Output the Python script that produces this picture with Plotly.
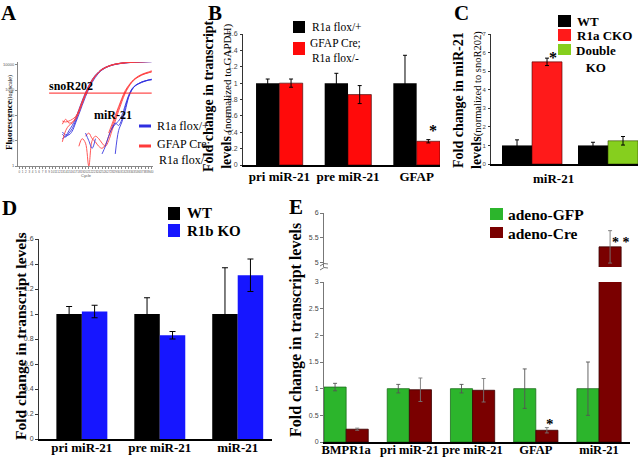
import plotly.graph_objects as go

W, H = 640, 458
def fx(px): return px / W
def fy(py): return 1 - py / H

SERIF = "Liberation Serif, Times New Roman, serif"
SANS = "Liberation Sans, Arial, sans-serif"

# ---------------- Panel A data (qPCR amplification curves) ----------------
cycles_sno = [13, 14, 15, 16, 17, 18, 19, 20, 21, 22, 23, 24, 25, 27, 29, 32, 35, 38, 40]
sno_blue = [
    [22, 17, 17, 24, 50, 110, 250, 550, 1100, 2000, 3200, 4700, 6200, 8600, 10300, 11800, 12600, 13100, 13300],
    [18, 14, 20, 30, 60, 140, 320, 680, 1300, 2300, 3600, 5000, 6500, 8800, 10500, 12000, 12800, 13200, 13400],
    [12, 15, 25, 40, 75, 170, 380, 800, 1500, 2600, 3900, 5300, 6800, 9000, 10700, 12100, 12900, 13300, 13500],
]
sno_red = [
    [60, 55, 60, 70, 90, 150, 320, 700, 1350, 2400, 3700, 5100, 6600, 8900, 10600, 12100, 12900, 13300, 13500],
    [9, 25, 40, 50, 70, 130, 290, 640, 1250, 2250, 3500, 4900, 6400, 8700, 10400, 11900, 12700, 13200, 13400],
    [45, 70, 50, 55, 80, 160, 360, 760, 1450, 2500, 3800, 5200, 6700, 9000, 10700, 12200, 13000, 13400, 13600],
]
cycles_mir = [18, 19, 20, 21, 22, 23, 24, 25, 26, 27, 28, 29, 30, 31, 32, 33, 34, 35, 36, 37, 38, 39, 40]
mir_red = [
    [6, 12, 8, 1, 10, 15, 12, 8, 6, 10, 25, 60, 150, 350, 750, 1300, 2000, 2700, 3300, 3900, 4400, 4800, 5200],
    [None, None, 15, 20, 12, 9, 6, 5, 7, 15, 35, 80, 190, 420, 850, 1400, 2100, 2800, 3400, 4000, 4500, 4900, 5400],
    [None, None, None, None, None, None, None, None, None, 20, 45, 100, 220, 480, 950, 1500, 2200, 2900, 3600, 4200, 4700, 5200, 5800],
]
mir_blue = [
    [None, None, 20, 10, 5, 12, None, 3, 6, 15, 30, 45, 60, 100, 250, 600, 1100, 1500, 1800, 2100, 2300, 2500, 2600],
    [None, None, None, None, None, None, None, None, None, None, None, 3, 25, 55, 150, 500, 1000, 1500, 1800, 2100, 2300, 2500, 2700],
    [None, None, None, None, None, None, None, None, None, None, 30, 50, 40, 70, 200, 550, 1050, 1450, 1750, 2000, 2250, 2450, 2550],
]
threshold_cycles = [9, 40]
threshold_value = 760
a_yticks = [1, 10, 100, 1000, 10000]
a_xticks = list(range(0, 41))

# ---------------- Panel B ----------------
b_cats = ["pri miR-21", "pre miR-21", "GFAP"]
b_flox = [1.0, 1.0, 1.0]
b_flox_err = [0.05, 0.12, 0.34]
b_cre = [1.0, 0.86, 0.29]
b_cre_err = [0.05, 0.11, 0.02]
b_ticks = [0, 0.2, 0.4, 0.6, 0.8, 1.0, 1.2, 1.4, 1.6]
b_ticktext = ["0", "0.2", "0.4", "0.6", "0.8", "1", "1.2", "1.4", "1.6"]

# ---------------- Panel C ----------------
c_groups = ["WT vs R1a CKO", "WT vs Double KO"]
c_wt = [1.0, 1.0]
c_wt_err = [0.3, 0.17]
c_cko = [5.5]
c_cko_err = [0.2]
c_dko = [1.25]
c_dko_err = [0.23]
c_ticks = [0, 1, 2, 3, 4, 5, 6, 7]

# ---------------- Panel D ----------------
d_cats = ["pri miR-21", "pre miR-21", "miR-21"]
d_wt = [1.0, 1.0, 1.0]
d_wt_err = [0.06, 0.13, 0.37]
d_r1b = [1.02, 0.83, 1.31]
d_r1b_err = [0.05, 0.03, 0.13]

# ---------------- Panel E ----------------
e_cats = ["BMPR1a", "pri miR-21", "pre miR-21", "GFAP", "miR-21"]
e_gfp = [1.03, 1.0, 1.0, 1.0, 1.0]
e_gfp_err = [0.07, 0.08, 0.08, 0.37, 0.5]
e_cre = [0.24, 0.98, 0.97, 0.22, 5.31]
e_cre_err = [0.02, 0.22, 0.22, 0.05, 0.33]
e_low_ticks = [0, 0.5, 1, 1.5, 2, 2.5, 3]
e_low_text = ["0", "0.5", "1", "1.5", "2", "2.5", "3"]
e_high_ticks = [5, 5.5, 6]
e_high_text = ["5", "5.5", "6"]

# colours
A_BLUE, A_RED = "#2f2fe0", "#ff3b3b"
B_BLACK, B_RED = "#000000", "#ff0a0a"
C_BLACK, C_RED, C_GREEN = "#000000", "#ff1a1a", "#86cf1e"
D_BLACK, D_BLUE = "#000000", "#1616ff"
E_GREEN, E_RED = "#2cb52c", "#7a0000"

fig = go.Figure()

# ---- A traces
def curve(xs, ys, color):
    fig.add_trace(go.Scatter(x=xs, y=ys, mode="lines", xaxis="x", yaxis="y",
                             line=dict(color=color, width=1, shape="spline"), opacity=0.85,
                             showlegend=False, hoverinfo="skip"))
for vals in sno_blue:
    curve(cycles_sno, vals, A_BLUE)
for vals in sno_red:
    curve(cycles_sno, vals, A_RED)
for vals in mir_red:
    curve(cycles_mir, vals, A_RED)
for vals in mir_blue:
    curve(cycles_mir, vals, A_BLUE)
fig.add_trace(go.Scatter(x=threshold_cycles, y=[threshold_value] * len(threshold_cycles), mode="lines",
                         xaxis="x", yaxis="y", line=dict(color="#ff2020", width=1),
                         showlegend=False, hoverinfo="skip"))

def err(vals, color="black", thick=1, width=2):
    return dict(type="data", array=vals, visible=True, color=color, thickness=thick, width=width)

# ---- B traces
wB = 0.34
fig.add_trace(go.Bar(x=b_cats, y=b_flox, name="R1a flox/+", xaxis="x2", yaxis="y2",
                     width=wB, offset=-wB, marker=dict(color=B_BLACK, line=dict(width=0)),
                     error_y=err(b_flox_err), showlegend=False))
fig.add_trace(go.Bar(x=b_cats, y=b_cre, name="GFAP Cre; R1a flox/-", xaxis="x2", yaxis="y2",
                     width=wB, offset=0, marker=dict(color=B_RED, line=dict(color="#300000", width=0.6)),
                     error_y=err(b_cre_err), showlegend=False))

# ---- C traces
wC = 0.395
fig.add_trace(go.Bar(x=c_groups, y=c_wt, name="WT", xaxis="x3", yaxis="y3",
                     width=wC, offset=-wC, marker=dict(color=C_BLACK, line=dict(width=0)),
                     error_y=err(c_wt_err), showlegend=False))
fig.add_trace(go.Bar(x=c_groups[:1], y=c_cko, name="R1a CKO", xaxis="x3", yaxis="y3",
                     width=wC, offset=0, marker=dict(color=C_RED, line=dict(color="#400000", width=0.6)),
                     error_y=err(c_cko_err), showlegend=False))
fig.add_trace(go.Bar(x=c_groups[1:], y=c_dko, name="Double KO", xaxis="x3", yaxis="y3",
                     width=wC, offset=0, marker=dict(color=C_GREEN, line=dict(color="#304000", width=0.6)),
                     error_y=err(c_dko_err), showlegend=False))

# ---- D traces
wD = 0.327
fig.add_trace(go.Bar(x=d_cats, y=d_wt, name="WT", xaxis="x4", yaxis="y4",
                     width=wD, offset=-wD, marker=dict(color=D_BLACK, line=dict(width=0)),
                     error_y=err(d_wt_err, width=3), showlegend=False))
fig.add_trace(go.Bar(x=d_cats, y=d_r1b, name="R1b KO", xaxis="x4", yaxis="y4",
                     width=wD, offset=0, marker=dict(color=D_BLUE, line=dict(width=0)),
                     error_y=err(d_r1b_err, width=3), showlegend=False))

# ---- E traces (broken axis: lower y5, upper y6)
wE = 0.35
for ya in ["y5", "y6"]:
    fig.add_trace(go.Bar(x=e_cats, y=e_gfp, name="adeno-GFP", xaxis="x5", yaxis=ya,
                         width=wE, offset=-wE, marker=dict(color=E_GREEN, line=dict(color="#1c6e1c", width=0.8)),
                         error_y=err(e_gfp_err, color="#555555", thick=0.9, width=2), showlegend=False))
    fig.add_trace(go.Bar(x=e_cats, y=e_cre, name="adeno-Cre", xaxis="x5", yaxis=ya,
                         width=wE, offset=0, marker=dict(color=E_RED, line=dict(color="#3a0000", width=0.8)),
                         error_y=err(e_cre_err, color="#777777", thick=0.9, width=2), showlegend=False))

tickfont_small = dict(family=SANS, size=7, color="#444444")
catfont = dict(family=SERIF, size=13, color="black", weight="bold")
common = dict(showgrid=False, zeroline=False, automargin=False, tickangle=0)

layout = dict(
    width=W, height=H, margin=dict(l=0, r=0, t=0, b=0, autoexpand=False),
    paper_bgcolor="white", plot_bgcolor="white", showlegend=False, barmode="group",
    # A
    xaxis=dict(domain=[fx(18), fx(153)], range=[-0.4, 40.4], anchor="y", showline=True, linecolor="#888888",
               linewidth=1, ticks="outside", ticklen=2, tickcolor="#888888", tickvals=a_xticks,
               tickfont=dict(family=SANS, size=3, color="#555555"), **common),
    yaxis=dict(domain=[fy(166), fy(62)], type="log", range=[0, 4.11], anchor="x", showline=True,
               linecolor="#888888", linewidth=1, ticks="outside", ticklen=2, tickcolor="#888888",
               tickvals=a_yticks, ticktext=[str(v) for v in a_yticks],
               tickfont=dict(family=SANS, size=4, color="#555555"), **common),
    # B
    xaxis2=dict(domain=[fx(243), fx(440)], range=[-0.53, 2.34], anchor="y2", type="category",
                showline=True, linecolor="black", linewidth=1.5, ticks="", tickfont=catfont,
                ticklabelstandoff=-1, **common),
    yaxis2=dict(domain=[fy(165), fy(34)], range=[0, 1.6], anchor="x2", showline=True, linecolor="#333333",
                linewidth=1, ticks="outside", ticklen=2, tickcolor="#333333", tickvals=b_ticks, ticktext=b_ticktext,
                tickfont=tickfont_small, ticklabelstandoff=1, **common),
    # C
    xaxis3=dict(domain=[fx(491), fx(638)], range=[-0.54, 1.395], anchor="y3", type="category",
                showline=True, linecolor="black", linewidth=1.5, ticks="", showticklabels=False, **common),
    yaxis3=dict(domain=[fy(164), fy(34)], range=[0, 7], anchor="x3", showline=True, linecolor="#333333",
                linewidth=1, ticks="outside", ticklen=2, tickcolor="#333333", tickvals=c_ticks,
                ticktext=[str(v) for v in c_ticks], tickfont=dict(family=SANS, size=6, color="#444444"),
                ticklabelstandoff=1, **common),
    # D
    xaxis4=dict(domain=[fx(39), fx(272)], range=[-0.55, 2.44], anchor="y4", type="category",
                showline=True, linecolor="black", linewidth=1.5, ticks="", tickfont=catfont,
                ticklabelstandoff=-4, **common),
    yaxis4=dict(domain=[fy(439), fy(239)], range=[0, 1.6], anchor="x4", showline=True, linecolor="#333333",
                linewidth=1, ticks="outside", ticklen=3, tickcolor="#333333", tickvals=b_ticks, ticktext=b_ticktext,
                tickfont=tickfont_small, **common),
    # E
    xaxis5=dict(domain=[fx(324), fx(630)], range=[-0.35, 4.49], anchor="y5", type="category",
                showline=True, linecolor="black", linewidth=1.5, ticks="",
                tickfont=dict(family=SERIF, size=12.5, color="black", weight="bold"),
                ticklabelstandoff=-5, **common),
    yaxis5=dict(domain=[fy(442), fy(282)], range=[0, 3], anchor="x5", showline=True, linecolor="#777777",
                linewidth=1, ticks="outside", ticklen=3, tickcolor="#777777", tickvals=e_low_ticks,
                ticktext=e_low_text, tickfont=tickfont_small, **common),
    yaxis6=dict(domain=[fy(267), fy(213)], range=[4.9, 6], anchor="x5", showline=True, linecolor="#777777",
                linewidth=1, ticks="outside", ticklen=3, tickcolor="#777777", tickvals=e_high_ticks,
                ticktext=e_high_text, tickfont=tickfont_small, **common),
)
fig.update_layout(**layout)

ann = []
def text(px, py, s, size=12, bold=False, xanchor="center", angle=0, align="center", color="black", family=SERIF):
    ann.append(dict(x=fx(px), y=fy(py), xref="paper", yref="paper", text=s, showarrow=False,
                    xanchor=xanchor, yanchor="middle", textangle=angle, align=align,
                    font=dict(family=family, size=size, color=color, weight="bold" if bold else "normal")))

# panel letters
for lab, px, py in [("A", 9, 13), ("B", 215, 13), ("C", 461, 13), ("D", 9, 208), ("E", 296, 207)]:
    text(px, py, lab, size=21, bold=True)

# A texts
text(71, 86, "snoR202", size=12, bold=True)
text(113, 115, "miR-21", size=12, bold=True)
text(9, 113, "<b>Fluorescence</b><span style='font-size:6px'>(log scale)</span>", size=9, angle=-90)
text(86, 175, "Cycle", size=4, family=SANS, color="#555555")
text(155, 126, "R1a flox/+", size=12, xanchor="left")
text(155, 152, "GFAP Cre;<br>R1a flox/-", size=12, xanchor="left", align="center")

# B texts
text(217, 96, "<b>Fold change in transcript</b><br><b>levels</b> <span style='font-size:11px'>(normalized to GAPDH)</span>",
     size=14, angle=-90)
text(310, 27, "R1a flox/+", size=11.5, xanchor="left")
text(308, 50, "GFAP Cre;<br>R1a flox/-", size=11.5, xanchor="left", align="center")
text(433, 130, "*", size=16, bold=True)

# C texts
text(467, 100, "<b>Fold change in miR-21</b><br><b>levels</b><span style='font-size:10.5px'>(normalized to snoR202)</span>",
     size=14, angle=-90)
text(553, 178, "miR-21", size=13, bold=True)
text(575, 21, "WT", size=13, bold=True, xanchor="left")
text(575, 35, "R1a CKO", size=13, bold=True, xanchor="left")
text(574, 59, "Double<br>KO", size=13, bold=True, xanchor="left", align="center")
text(553, 58, "*", size=16, bold=True)

# D texts
text(20, 336, "Fold change in transcript levels", size=15.5, bold=True, angle=-90)
text(185, 213, "WT", size=15, bold=True, xanchor="left")
text(185, 231, "R1b KO", size=15, bold=True, xanchor="left")

# E texts
text(296, 330, "Fold change in transcript levels", size=16, bold=True, angle=-90)
text(506, 214, "adeno-GFP", size=15.5, bold=True, xanchor="left")
text(506, 233, "adeno-Cre", size=15.5, bold=True, xanchor="left")
text(550, 424, "*", size=15, bold=True)
text(621, 243, "* *", size=14, bold=True)

fig.update_layout(annotations=ann)

shapes = []
def square(x0, y0, x1, y1, color):
    shapes.append(dict(type="rect", xref="paper", yref="paper", x0=fx(x0), x1=fx(x1), y0=fy(y1), y1=fy(y0),
                       fillcolor=color, line=dict(width=0)))
def hline(x0, x1, y, color, w):
    shapes.append(dict(type="line", xref="paper", yref="paper", x0=fx(x0), x1=fx(x1), y0=fy(y), y1=fy(y),
                       line=dict(color=color, width=w)))

hline(139, 151, 126, A_BLUE, 3)
hline(139, 151, 146, A_RED, 3)
square(293, 21, 305, 33, B_BLACK)
square(293, 42, 305, 55, B_RED)
square(558, 15, 571, 27, C_BLACK)
square(558, 29, 571, 41, C_RED)
square(558, 44, 571, 55, C_GREEN)
square(168, 207, 180, 220, D_BLACK)
square(168, 224, 180, 237, D_BLUE)
square(490, 208, 503, 220, E_GREEN)
square(490, 227, 503, 238, E_RED)
# broken-axis marks on panel E
shapes.append(dict(type="path", xref="paper", yref="paper",
                   path=f"M {fx(320)} {fy(270)} Q {fx(324)} {fy(266)} {fx(328)} {fy(268)}"
                        f" M {fx(320)} {fy(266)} Q {fx(324)} {fy(262)} {fx(328)} {fy(264)}",
                   line=dict(color="#777777", width=1)))
fig.update_layout(shapes=shapes)

fig.write_html("out.html", config={"displayModeBar": False},
               post_script="document.body.style.margin='0';document.body.style.overflow='hidden';")
